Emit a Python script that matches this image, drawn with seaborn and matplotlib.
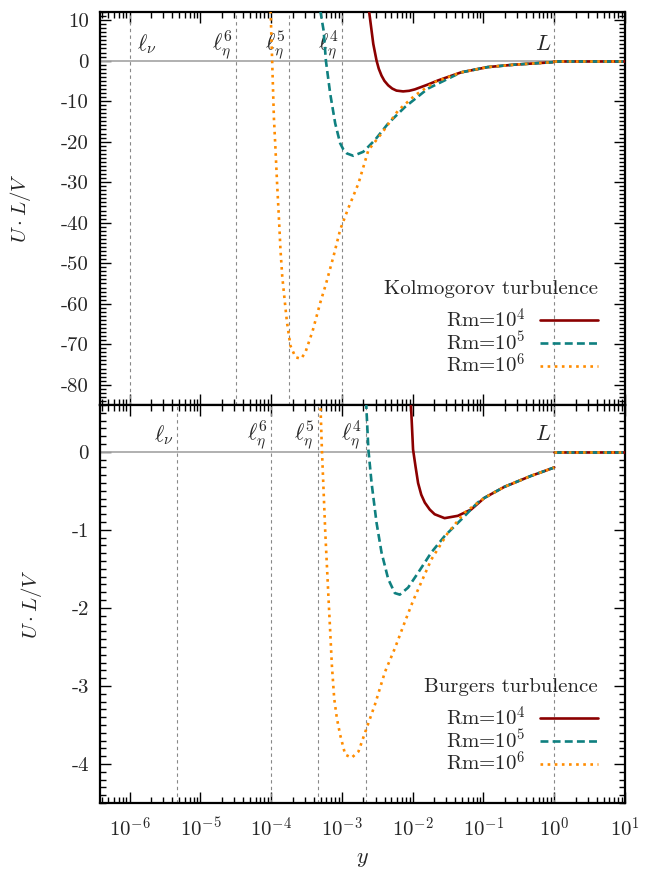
import numpy as np
import pandas as pd
import matplotlib
matplotlib.use("Agg")
import matplotlib.pyplot as plt
import seaborn as sns
from matplotlib.ticker import LogLocator, MultipleLocator, FixedLocator

sns.set_style("white")
plt.rcParams['font.family'] = ['cmr10', 'DejaVu Serif']
plt.rcParams['mathtext.fontset'] = 'cm'
plt.rcParams['axes.unicode_minus'] = False
plt.rcParams['axes.formatter.use_mathtext'] = True

# ---- data ----
rm_labels = ["Rm=$10^4$", "Rm=$10^5$", "Rm=$10^6$"]
colors = ["#8b0000", "#0f8080", "#ff8c00"]
styles = ["-", (0, (3, 1.6)), (0, (1, 1.7))]

# beyond L every curve sits at zero
flat_x = [1.0, 10.0]
flat_y = [0.0, 0.0]

# Kolmogorov panel
kol_tail_x = [4.82e-2, 0.114, 0.272, 0.933, 1.0]
kol_tail_y = [-2.9, -1.6, -1.0, -0.4, -0.3]

kol_rm4_x = [2.41e-3, 2.77e-3, 3.08e-3, 3.31e-3, 3.62e-3, 3.98e-3, 4.50e-3,
             5.13e-3, 5.89e-3, 7.31e-3, 8.91e-3, 1.07e-2, 1.64e-2, 2.27e-2]
kol_rm4_y = [12.3, 4.1, 0.0, -2.0, -3.7, -5.0, -6.1, -6.9, -7.4, -7.6, -7.45,
             -7.1, -5.9, -4.9]

kol_rm5_x = [4.94e-4, 5.50e-4, 5.92e-4, 6.82e-4, 8.02e-4, 9.42e-4, 1.05e-3,
             1.17e-3, 1.45e-3, 2.00e-3, 2.92e-3, 4.50e-3, 7.71e-3, 1.64e-2, 3.13e-2]
kol_rm5_y = [12.3, 7.4, 0.0, -8.2, -15.5, -20.4, -22.0, -22.9, -23.5, -22.5,
             -19.6, -15.5, -11.5, -6.9, -4.5]

kol_rm6_x = [9.79e-5, 1.03e-4, 1.09e-4, 1.15e-4, 1.21e-4, 1.28e-4, 1.35e-4,
             1.43e-4, 1.56e-4, 1.67e-4, 1.87e-4, 2.20e-4, 2.64e-4, 3.04e-4,
             3.85e-4, 4.94e-4, 5.92e-4, 7.59e-4, 9.44e-4, 1.23e-3, 1.71e-3,
             2.36e-3, 3.62e-3, 6.22e-3, 1.07e-2, 2.04e-2]
kol_rm6_y = [12.3, 0.0, -14.0, -22.1, -30.3, -38.4, -46.6, -53.2, -59.7, -64.6,
             -70.4, -73.2, -73.6, -72.0, -66.7, -59.7, -55.2, -48.3, -41.7,
             -36.4, -30.3, -22.1, -18.0, -12.3, -8.6, -5.3]

# Burgers panel
bur_tail_x = [0.103, 0.196, 0.465, 0.938, 1.0]
bur_tail_y = [-0.59, -0.45, -0.31, -0.21, -0.20]

bur_rm4_x = [9.38e-3, 1.01e-2, 1.10e-2, 1.19e-2, 1.32e-2, 1.48e-2, 1.74e-2,
             2.04e-2, 2.82e-2, 4.34e-2, 6.67e-2]
bur_rm4_y = [0.65, 0.03, -0.20, -0.40, -0.55, -0.65, -0.74, -0.80, -0.85,
             -0.82, -0.74]

bur_rm5_x = [2.19e-3, 2.36e-3, 2.62e-3, 3.08e-3, 3.62e-3, 4.50e-3, 5.58e-3,
             6.56e-3, 8.59e-3, 1.19e-2, 1.83e-2, 2.82e-2, 4.82e-2, 8.28e-2]
bur_rm5_y = [0.65, 0.03, -0.40, -0.91, -1.29, -1.63, -1.81, -1.83, -1.74,
             -1.55, -1.29, -1.08, -0.87, -0.65]

bur_rm6_x = [4.94e-4, 5.20e-4, 5.81e-4, 6.46e-4, 6.82e-4, 7.19e-4, 7.76e-4,
             8.45e-4, 9.44e-4, 1.11e-3, 1.37e-3, 1.71e-3, 2.23e-3, 2.92e-3,
             4.05e-3, 5.58e-3, 7.73e-3, 1.01e-2, 1.83e-2, 3.13e-2, 5.38e-2]
bur_rm6_y = [0.65, 0.03, -1.04, -1.89, -2.31, -2.73, -3.16, -3.41, -3.63, -3.88,
             -3.92, -3.84, -3.54, -3.24, -2.82, -2.52, -2.18, -1.91, -1.38,
             -1.04, -0.78]

# characteristic scales (vertical guides)
kol_scales_x = [1e-6, 3.16e-5, 1.78e-4, 1e-3, 1.0]
bur_scales_x = [4.6e-6, 1e-4, 4.6e-4, 2.15e-3, 1.0]
scale_labels = [r"$\ell_\nu$", r"$\ell_\eta^6$", r"$\ell_\eta^5$", r"$\ell_\eta^4$", r"$L$"]

kol_yticks = [10, 0, -10, -20, -30, -40, -50, -60, -70, -80]
bur_yticks = [0, -1, -2, -3, -4]
x_ticks = [1e-6, 1e-5, 1e-4, 1e-3, 1e-2, 1e-1, 1e0, 1e1]


def make_frame(xs, ys, tail_x, tail_y):
    return pd.DataFrame({"y": list(xs) + list(tail_x), "U": list(ys) + list(tail_y)})


fig = plt.figure(figsize=(6.51, 8.69), dpi=100)
left, right = 100 / 651, 625 / 651
ax_top = fig.add_axes([left, 1 - 405 / 869, right - left, (405 - 12) / 869])
ax_bot = fig.add_axes([left, 1 - 803 / 869, right - left, (803 - 405) / 869])

panels = [
    (ax_top, [(kol_rm4_x, kol_rm4_y), (kol_rm5_x, kol_rm5_y), (kol_rm6_x, kol_rm6_y)],
     kol_tail_x, kol_tail_y, kol_scales_x, (-85, 12), kol_yticks, 4.0,
     "Kolmogorov turbulence", 0.071),
    (ax_bot, [(bur_rm4_x, bur_rm4_y), (bur_rm5_x, bur_rm5_y), (bur_rm6_x, bur_rm6_y)],
     bur_tail_x, bur_tail_y, bur_scales_x, (-4.5, 0.6), bur_yticks, 0.22,
     "Burgers turbulence", 0.070),
]

for ax, series, tx, ty, scales, ylim, yticks, label_y, title, leg_y in panels:
    ax.axhline(0, color="#aaaaaa", lw=1.3, zorder=1)
    for i, sx in enumerate(scales):
        ax.axvline(sx, color="#888888", lw=0.8, ls=(0, (3, 3)), zorder=1)
        if ax is ax_top and i == 0:
            ax.text(sx * 1.25, label_y, scale_labels[i], ha="left", va="center", fontsize=16)
        else:
            ax.text(sx / 1.1, label_y, scale_labels[i], ha="right", va="center", fontsize=16)

    for (sx, sy), lab, col, ls in zip(series, rm_labels, colors, styles):
        df = make_frame(sx, sy, tx, ty)
        sns.lineplot(data=df, x="y", y="U", ax=ax, color=col, linestyle=ls, lw=1.9,
                     estimator=None, sort=False, label=lab, zorder=3)
        sns.lineplot(x=flat_x, y=flat_y, ax=ax, color=col, linestyle=ls, lw=1.9,
                     estimator=None, sort=False, legend=False, zorder=3)

    ax.set_xscale("log")
    ax.set_xlim(3.8e-7, 10)
    ax.set_ylim(*ylim)
    ax.xaxis.set_major_locator(FixedLocator(x_ticks))
    ax.xaxis.set_minor_locator(LogLocator(base=10, subs=np.arange(2, 10), numticks=100))
    ax.set_yticks(yticks)
    ax.set_yticklabels([str(t) for t in yticks])
    ax.yaxis.set_minor_locator(MultipleLocator(1 if ax is ax_top else 0.1))
    ax.tick_params(which="both", direction="in", top=True, right=True, bottom=True,
                   left=True, labelsize=15, width=1.0, color="black")
    ax.tick_params(which="major", length=8)
    ax.tick_params(which="minor", length=4)
    ax.tick_params(axis="y", pad=8)
    for sp in ax.spines.values():
        sp.set_linewidth(1.6)
        sp.set_color("black")
    ax.set_ylabel(r"$U \cdot L / V$", fontsize=15, labelpad=20)
    ax.set_xlabel("")

    leg = ax.legend(title=title, loc="lower right", bbox_to_anchor=(0.949, leg_y),
                    frameon=False, markerfirst=False, fontsize=15, title_fontsize=15,
                    handlelength=2.8, handletextpad=0.7, labelspacing=-0.05,
                    borderpad=0, borderaxespad=0)
    leg._legend_box.align = "right"
    leg._legend_box.sep = 7

ax_top.tick_params(labelbottom=False)
ax_bot.set_xticklabels([r"$10^{%d}$" % int(np.log10(t)) for t in x_ticks])
ax_bot.set_xlabel(r"$y$", fontsize=16, labelpad=6)
ax_bot.tick_params(axis="x", pad=10)

fig.savefig("out.png", dpi=100)
